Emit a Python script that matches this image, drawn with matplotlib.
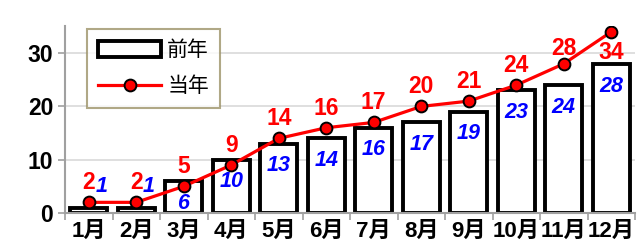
import matplotlib.pyplot as plt
import numpy as np

months = ["1月", "2月", "3月", "4月", "5月", "6月", "7月", "8月", "9月", "10月", "11月", "12月"]
prev_year = [1, 1, 6, 10, 13, 14, 16, 17, 19, 23, 24, 28]
this_year = [2, 2, 5, 9, 14, 16, 17, 20, 21, 24, 28, 34]

fonts = ["Liberation Sans", "Noto Sans CJK JP", "DejaVu Sans"]
plt.rcParams["font.family"] = fonts

fig = plt.figure(figsize=(6.43, 2.49), dpi=100)
ax = fig.add_axes([65 / 643, 36 / 249, 570 / 643, 186.5 / 249])

x = np.arange(len(months))

bars = ax.bar(x, prev_year, width=0.78, color="white", edgecolor="black",
              linewidth=2.8, label="前年", zorder=2)
line, = ax.plot(x, this_year, color="red", linewidth=2.3, marker="o",
                markersize=8.5, markerfacecolor="red", markeredgecolor="black",
                markeredgewidth=1.4, label="当年", zorder=3)

# blue labels for previous year
for i, v in enumerate(prev_year):
    if v <= 1:
        off = (9, 15)
    else:
        off = (0, -16)
    ax.annotate(str(v), (i, v), xytext=off, textcoords="offset points",
                ha="center", va="center", color="blue", fontsize=15.5,
                fontweight="bold", fontstyle="italic", family="Liberation Sans",
                zorder=4)

# red labels for this year
for i, v in enumerate(this_year):
    if i == len(this_year) - 1:
        dy = -15
    elif i == len(this_year) - 2:
        dy = 11
    else:
        dy = 14
    ax.annotate(str(v), (i, v), xytext=(0, dy), textcoords="offset points",
                ha="center", va="center", color="red", fontsize=16.5,
                fontweight="bold", family="Liberation Sans", zorder=4)

ax.set_xlim(-0.5, len(months) - 0.5)
ax.set_ylim(0, 35)
ax.set_yticks([0, 10, 20, 30])
ax.set_xticks(x)
ax.set_xticklabels(months, fontsize=16, fontweight="bold")
ax.tick_params(axis="x", length=0, pad=6)
ax.set_xticks(np.arange(-0.5, len(months)), minor=True)
ax.tick_params(axis="x", which="minor", length=5, color="#a0a0a0", width=1.2)
ax.tick_params(axis="y", length=5, color="#a0a0a0", width=1.2, labelsize=16.5)
for t in ax.get_yticklabels():
    t.set_fontweight("bold")

ax.grid(axis="y", color="#d9d9d9", linewidth=1.2, zorder=0)
ax.set_axisbelow(True)
for side in ["top", "right"]:
    ax.spines[side].set_visible(False)
for side in ["left", "bottom"]:
    ax.spines[side].set_color("#a0a0a0")
    ax.spines[side].set_linewidth(1.5)

leg = ax.legend([bars, line], ["前年", "当年"], loc="upper left",
                bbox_to_anchor=(87 / 643, 1 - 29 / 249), bbox_transform=fig.transFigure,
                borderaxespad=0, frameon=True, fancybox=False, borderpad=0.55,
                labelspacing=0.8, handlelength=3.0, handleheight=0.8,
                handletextpad=0.3, prop={"family": fonts, "size": 15})
leg.get_frame().set_edgecolor("#9c9268")
leg.get_frame().set_linewidth(1.5)

fig.savefig("out.png", dpi=100)
